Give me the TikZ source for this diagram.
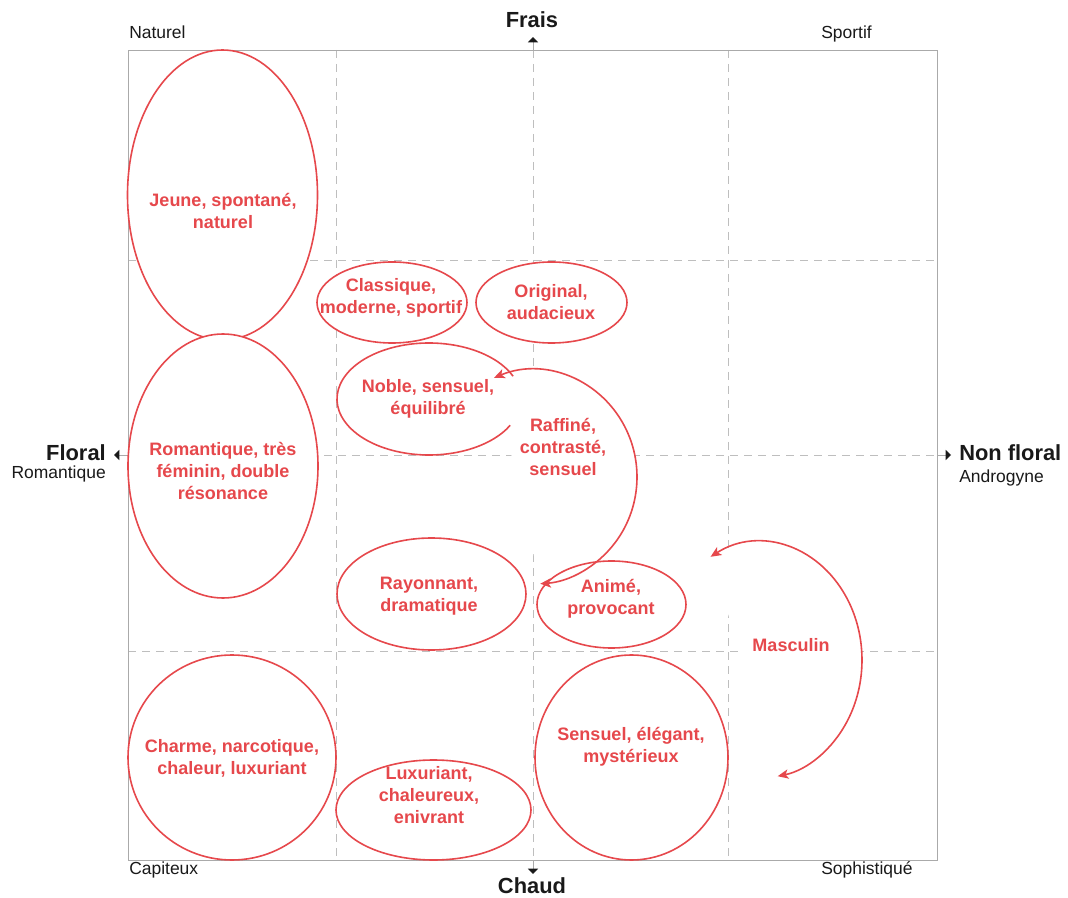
\documentclass[tikz,border=0pt]{standalone}
\usepackage{fontspec}
\setmainfont{Liberation Sans}
\usetikzlibrary{arrows.meta}
\definecolor{rd}{RGB}{230,72,76}
\definecolor{gridgray}{RGB}{190,190,190}
\definecolor{framegray}{RGB}{170,170,170}
\definecolor{ink}{RGB}{25,25,25}
\begin{document}
\begin{tikzpicture}[x=0.75pt,y=-0.75pt,
  gridline/.style={draw=gridgray, line width=0.7pt, dash pattern=on 6pt off 4.5pt},
  framebox/.style={draw=framegray, line width=0.6pt},
  axisstub/.style={draw=framegray, line width=0.6pt, -{Triangle[length=4pt,width=7.5pt,color=ink]}},
  ell/.style={draw=rd, line width=1.2pt, fill=white},
  curv/.style={draw=rd, line width=1.2pt, {Stealth[length=8pt,width=7pt,inset=2pt]}-{Stealth[length=8pt,width=7pt,inset=2pt]}},
  lab/.style={text=rd, font=\bfseries\fontsize{13.5}{16.5}\selectfont, align=center, inner sep=0pt},
  corner/.style={text=ink, font=\fontsize{13.1}{15}\selectfont, inner sep=0pt},
  axlab/.style={text=ink, font=\bfseries\fontsize{16.4}{19}\selectfont, inner sep=0pt}]
\useasboundingbox (0,0) rectangle (1068,898);
% frame corners and axis points
\coordinate (TL) at (128,50);
\coordinate (BR) at (937,860);
\coordinate (topin) at (533,50);
\coordinate (toptip) at (533,37);
\coordinate (botin) at (533,860);
\coordinate (bottip) at (533,874);
\coordinate (leftin) at (128,455);
\coordinate (lefttip) at (114,455);
\coordinate (rightin) at (937,455);
\coordinate (righttip) at (951,455);
% grid
\draw[gridline] (336,50) -- (336,860);
\draw[gridline] (728,50) -- (728,860);
\draw[gridline] (topin) -- (botin);
\draw[gridline] (128,260) -- (937,260);
\draw[gridline] (128,651) -- (937,651);
\draw[gridline] (leftin) -- (rightin);
\draw[framebox] (TL) rectangle (BR);
% axis arrows
\draw[axisstub] (topin) -- (toptip);
\draw[axisstub] (botin) -- (bottip);
\draw[axisstub] (leftin) -- (lefttip);
\draw[axisstub] (rightin) -- (righttip);
% white backgrounds of open arcs
\fill[white] (533,477) ++(-112:104 and 107) arc[start angle=-112, end angle=86, x radius=104, y radius=107] -- cycle;
\fill[white] (760,660) ++(-119:102 and 118) arc[start angle=-119, end angle=80, x radius=102, y radius=118] -- cycle;
% ellipses
\draw[ell] (222.5,195) ellipse [x radius=95, y radius=145];
\draw[ell] (223,466) ellipse [x radius=95, y radius=132];
\draw[ell] (232,757.5) ellipse [x radius=104, y radius=102.5];
\draw[ell] (392,302.5) ellipse [x radius=75, y radius=40.5];
\draw[ell] (551.5,302.5) ellipse [x radius=75.5, y radius=40.5];
\fill[white] (429,399) ellipse [x radius=92, y radius=56];
\draw[draw=rd, line width=1.2pt] (429,399) ++(-24:92 and 56) arc[start angle=-24, end angle=-332, x radius=92, y radius=56];
\draw[ell] (431.5,594) ellipse [x radius=94.5, y radius=56];
\draw[ell] (611.5,604.5) ellipse [x radius=74.5, y radius=43.5];
\draw[ell] (631.5,757.5) ellipse [x radius=96.5, y radius=102.5];
\draw[ell] (433.5,810) ellipse [x radius=97.5, y radius=50];
% curved arrows
\draw[curv] (533,477) ++(-112:104 and 107) arc[start angle=-112, end angle=86, x radius=104, y radius=107];
\draw[curv] (760,660) ++(-119:102 and 118) arc[start angle=-119, end angle=80, x radius=102, y radius=118];
% red labels
\node[lab] (jeune) at (223,211) {Jeune, spontané,\\naturel};
\node[lab] (roman) at (223,471) {Romantique, très\\féminin, double\\résonance};
\node[lab] (charme) at (232,758) {Charme, narcotique,\\chaleur, luxuriant};
\node[lab] (classique) at (391,298) {Classique,\\moderne, sportif};
\node[lab] (original) at (551,302) {Original,\\audacieux};
\node[lab] (noble) at (428,399) {Noble, sensuel,\\équilibré};
\node[lab] (raffine) at (563,447) {Raffiné,\\contrasté,\\sensuel};
\node[lab] (rayon) at (429,596) {Rayonnant,\\dramatique};
\node[lab] (anime) at (611,599) {Animé,\\provocant};
\node[lab] (masculin) at (791,645) {Masculin};
\node[lab] (sensuel) at (631,747) {Sensuel, élégant,\\mystérieux};
\node[lab] (luxur) at (429,795) {Luxuriant,\\chaleureux,\\enivrant};
% corner labels
\node[corner, anchor=base west] (naturel) at (129,39) {Naturel};
\node[corner, anchor=base west] (sportif) at (821,39) {Sportif};
\node[corner, anchor=base west] (capiteux) at (129,874) {Capiteux};
\node[corner, anchor=base west] (sophis) at (821,874) {Sophistiqué};
% axis labels
\node[axlab, anchor=base] (frais) at (532,28) {Frais};
\node[axlab, anchor=base] (chaud) at (532,893) {Chaud};
\node[axlab, anchor=base east] (floral) at (106,461) {Floral};
\node[corner, anchor=base east] (romantique) at (106,479) {Romantique};
\node[axlab, anchor=base west] (nonfloral) at (959,461) {Non floral};
\node[corner, anchor=base west] (androgyne) at (959,483) {Androgyne};
\end{tikzpicture}
\end{document}
